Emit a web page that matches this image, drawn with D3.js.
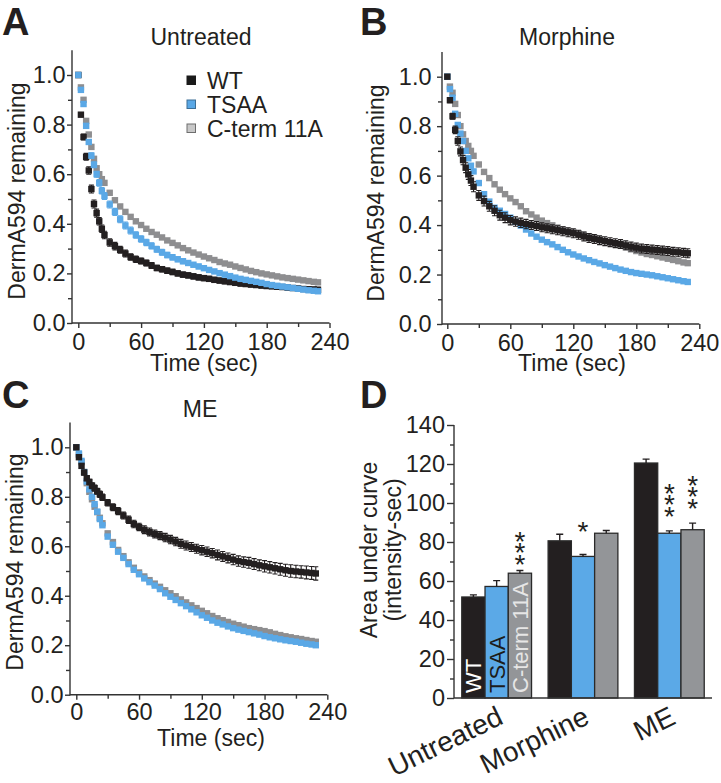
<!DOCTYPE html>
<html><head><meta charset="utf-8">
<script src="https://cdn.jsdelivr.net/npm/d3@7"></script>
<style>
body{margin:0;background:#fff}
svg{display:block}
text{font-family:"Liberation Sans",Arial,Helvetica,sans-serif;fill:#231f20}
</style>
</head><body>
<svg id="chart" width="721" height="783"></svg>
<script>
// ---------------- DATA ----------------
const seriesNames = ["WT", "TSAA", "C-term 11A"];
const times = [0,2.5,5,7.5,10,12.5,15,17.5,20,22.5,25,
  30,35,40,45,50,55,60,65,70,75,80,85,90,95,100,105,110,115,120,125,
  130,135,140,145,150,155,160,165,170,175,180,185,190,195,200,205,210,215,220,225,229];
const xTickValues = [0,60,120,180,240];
const xMinorTicks = [30,90,150,210];
const yTickValues = [0,0.2,0.4,0.6,0.8,1.0];
const yMinorTicks = [0.1,0.3,0.5,0.7,0.9];

// Panel A: Untreated
const untreatedWT = [1.0,.84,.75,.67,.615,.54,.48,.443,.41,.38,.355,
  .325,.31,.295,.28,.266,.257,.25,.242,.232,.222,
  .217,.211,.206,.2,.195,.192,.188,.184,.181,.178,
  .174,.171,.168,.165,.162,.159,.157,.155,.153,.151,
  .149,.148,.146,.145,.143,.141,.139,.137,.136,.135,.134];
const untreatedWTErr = [0,.008,.012,.014,.015,.016,.016,.016,.015,.015,.015,
  .015,.015,.014,.014,.013,.013,.012,.012,.012,.011,
  .011,.011,.011,.01,.01,.01,.01,.01,.01,.01,
  .01,.01,.01,.01,.01,.01,.01,.01,.01,.01,
  .01,.01,.01,.01,.01,.01,.01,.01,.01,.01,.01];
const untreatedTSAA = [1.0,.94,.883,.795,.73,.675,.638,.6,.565,.533,.512,
  .478,.448,.418,.393,.373,.355,.339,.325,.311,.297,
  .285,.274,.265,.257,.249,.242,.235,.228,.221,.214,
  .208,.201,.195,.189,.183,.178,.174,.17,.166,.162,
  .157,.153,.15,.147,.144,.141,.138,.135,.132,.13,.128];
const untreatedTSAAErr = [0,.005,.007,.008,.01,.011,.012,.012,.013,.013,.014,
  .014,.014,.014,.014,.014,.013,.013,.013,.012,.012,
  .012,.011,.011,.01,.01,.01,.009,.009,.009,.008,
  .008,.008,.008,.007,.007,.007,.007,.007,.006,.006,
  .006,.006,.006,.006,.006,.006,.006,.006,.006,.006,.006];
const untreatedCterm = [1.0,.95,.9,.815,.76,.71,.662,.624,.6,.58,.565,
  .525,.495,.47,.448,.428,.41,.395,.38,.367,.356,
  .345,.333,.323,.313,.302,.293,.284,.276,.268,.261,
  .254,.246,.24,.235,.228,.222,.216,.21,.205,.2,
  .196,.192,.188,.184,.181,.178,.175,.172,.169,.166,.164];
const untreatedCtermErr = [0,.004,.005,.005,.005,.005,.005,.005,.005,.005,.005,
  .005,.005,.005,.005,.005,.005,.005,.005,.005,.005,
  .005,.005,.005,.005,.005,.005,.005,.005,.005,.005,
  .005,.005,.005,.005,.005,.005,.005,.005,.005,.005,
  .005,.005,.005,.005,.005,.005,.005,.005,.005,.005,.005];

// Panel B: Morphine
const morphineWT = [1.0,.905,.84,.785,.74,.698,.663,.632,.605,.58,.555,
  .52,.497,.476,.458,.44,.43,.42,.414,.409,.404,
  .4,.396,.391,.387,.383,.379,.375,.371,.367,.361,
  .354,.348,.344,.339,.335,.331,.327,.323,.318,.313,
  .309,.305,.303,.301,.299,.297,.295,.292,.29,.288,.286];
const morphineWTErr = [0,.01,.012,.015,.017,.018,.019,.02,.02,.02,.02,
  .02,.02,.02,.02,.02,.02,.019,.019,.019,.019,
  .018,.018,.018,.018,.018,.018,.018,.018,.018,.018,
  .018,.018,.018,.018,.018,.018,.018,.018,.018,.018,
  .018,.018,.018,.018,.018,.018,.018,.018,.018,.018,.018];
const morphineTSAA = [1.0,.95,.915,.85,.805,.77,.74,.7,.67,.64,.617,
  .57,.525,.495,.47,.458,.445,.43,.413,.398,.382,
  .366,.353,.341,.331,.322,.311,.3,.29,.281,.273,
  .265,.258,.251,.245,.238,.232,.226,.22,.215,.21,
  .206,.203,.2,.197,.193,.189,.185,.181,.177,.173,.17];
const morphineTSAAErr = [0,.004,.004,.004,.004,.004,.004,.004,.004,.004,.004,
  .004,.004,.004,.004,.004,.004,.004,.004,.004,.004,
  .004,.004,.004,.004,.004,.004,.004,.004,.004,.004,
  .004,.004,.004,.004,.004,.004,.004,.004,.004,.004,
  .004,.004,.004,.004,.004,.004,.004,.004,.004,.004,.004];
const morphineCterm = [1.0,.96,.935,.89,.845,.8,.767,.74,.72,.7,.68,
  .645,.615,.59,.565,.543,.525,.508,.493,.476,.456,
  .443,.43,.418,.408,.399,.39,.383,.377,.372,.367,
  .361,.355,.349,.343,.336,.329,.322,.316,.31,.302,
  .295,.289,.283,.279,.274,.269,.264,.259,.254,.249,.246];
const morphineCtermErr = [0,.005,.006,.006,.006,.006,.006,.006,.006,.006,.006,
  .006,.006,.006,.006,.006,.006,.006,.006,.006,.006,
  .006,.006,.006,.006,.006,.006,.006,.006,.006,.006,
  .006,.006,.006,.006,.006,.006,.006,.006,.006,.006,
  .006,.006,.006,.006,.006,.006,.006,.006,.006,.006,.006];

// Panel C: ME
const meWT = [1.0,.96,.925,.898,.875,.86,.845,.835,.822,.81,.798,
  .776,.758,.742,.724,.707,.69,.678,.667,.658,.65,
  .643,.635,.627,.619,.61,.603,.597,.59,.584,.578,
  .572,.565,.559,.553,.546,.54,.536,.533,.528,.523,
  .519,.515,.511,.507,.503,.5,.498,.496,.494,.492,.49];
const meWTErr = [0,.006,.008,.01,.01,.011,.012,.012,.012,.013,.013,
  .013,.014,.014,.014,.015,.015,.015,.016,.016,.016,
  .016,.017,.017,.017,.018,.018,.018,.018,.019,.019,
  .019,.02,.02,.02,.021,.021,.021,.022,.022,.022,
  .023,.023,.023,.024,.024,.025,.025,.025,.026,.026,.027];
const meTSAA = [1.0,.975,.945,.9,.862,.83,.8,.77,.74,.71,.685,
  .639,.606,.578,.553,.528,.505,.487,.47,.455,.441,
  .427,.41,.396,.383,.37,.358,.345,.333,.321,.311,
  .3,.291,.284,.276,.269,.263,.258,.253,.248,.243,
  .237,.232,.228,.224,.22,.217,.214,.21,.206,.203,.2];
const meTSAAErr = [0,.004,.004,.004,.004,.004,.004,.004,.004,.004,.004,
  .004,.004,.004,.004,.004,.004,.004,.004,.004,.004,
  .004,.004,.004,.004,.004,.004,.004,.004,.004,.004,
  .004,.004,.004,.004,.004,.004,.004,.004,.004,.004,
  .004,.004,.004,.004,.004,.004,.004,.004,.004,.004,.004];
const meCterm = [1.0,.97,.94,.9,.855,.82,.79,.76,.738,.715,.693,
  .652,.617,.585,.56,.535,.513,.494,.478,.463,.449,
  .436,.422,.41,.398,.385,.373,.361,.35,.339,.329,
  .318,.309,.301,.294,.287,.281,.275,.269,.265,.261,
  .257,.252,.246,.241,.236,.232,.228,.225,.221,.217,.214];
const meCtermErr = [0,.006,.007,.008,.008,.008,.008,.008,.008,.008,.008,
  .008,.008,.008,.008,.008,.008,.008,.008,.008,.008,
  .008,.008,.008,.008,.008,.008,.008,.008,.008,.008,
  .008,.008,.008,.008,.008,.008,.008,.008,.008,.008,
  .008,.008,.008,.008,.008,.008,.008,.008,.008,.008,.008];

// Panel D: area under curve
const aucGroups = ["Untreated", "Morphine", "ME"];
const aucWT = [51.8, 80.6, 120.5];
const aucWTErr = [1.1, 3.4, 2.0];
const aucTSAA = [57.2, 72.6, 84.5];
const aucTSAAErr = [3.0, 1.0, 1.2];
const aucCterm = [64.0, 84.5, 86.3];
const aucCtermErr = [1.4, 1.4, 3.4];
const aucTicks = [0,20,40,60,80,100,120,140];
const aucMinorTicks = [10,30,50,70,90,110,130];
// significance: group, series index, number of stars, level (data units) of lowest star
const sigStars = [
  {group:"Untreated", series:2, n:3, level:71.8},
  {group:"Morphine",  series:1, n:1, level:88.7},
  {group:"ME",        series:1, n:3, level:96.4},
  {group:"ME",        series:2, n:3, level:100.5}
];

// ---------------- STYLE / LAYOUT ----------------
const colors = {"WT":"#231f20", "TSAA":"#5aa8e6", "C-term 11A":"#8e8e90"};
const barColors = {"WT":"#231f20", "TSAA":"#5ba9e7", "C-term 11A":"#939598"};
const FONT = 23;
const TICKFONT = 23.5;
const svg = d3.select("#chart");

const curvePanels = [
  {letter:"A", title:"Untreated",
   series:[{name:"C-term 11A", v:untreatedCterm, e:untreatedCtermErr},
           {name:"WT", v:untreatedWT, e:untreatedWTErr},
           {name:"TSAA", v:untreatedTSAA, e:untreatedTSAAErr}],
   L:{axisX:72, zeroX:78.3, endX:329.5, y0:323, y1:75, xPad:5, yPad:1.5, titleX:201, titleY:45,
      xlabX:204, xlabY:371, ylabX:25, ylabY:191, letterX:2, letterY:35}, legend:true},
  {letter:"B", title:"Morphine",
   series:[{name:"C-term 11A", v:morphineCterm, e:morphineCtermErr},
           {name:"TSAA", v:morphineTSAA, e:morphineTSAAErr},
           {name:"WT", v:morphineWT, e:morphineWTErr}],
   L:{axisX:442, zeroX:447.3, endX:699.3, y0:324, y1:76.7, xPad:5, yPad:5.5, titleX:567, titleY:45,
      xlabX:572, xlabY:371, ylabX:384, ylabY:193, letterX:360, letterY:35}},
  {letter:"C", title:"ME",
   series:[{name:"C-term 11A", v:meCterm, e:meCtermErr},
           {name:"TSAA", v:meTSAA, e:meTSAAErr},
           {name:"WT", v:meWT, e:meWTErr}],
   L:{axisX:70, zeroX:76.3, endX:327.3, y0:694.7, y1:447.3, xPad:4, yPad:1.5, titleX:200, titleY:417,
      xlabX:211, xlabY:746, ylabX:23, ylabY:562, letterX:2, letterY:408}}
];

function styleAxis(a){
  a.selectAll("path,line").attr("stroke","#333").attr("stroke-width",1.4);
  a.selectAll("text").attr("font-size",TICKFONT).attr("font-family",null).attr("fill","#231f20");
}

curvePanels.forEach(P => {
  const L = P.L;
  const g = svg.append("g");
  const x = d3.scaleLinear().domain([0,240]).range([L.zeroX, L.endX]);
  const y = d3.scaleLinear().domain([0,1]).range([L.y0, L.y1]);

  // x axis
  g.append("g").attr("transform",`translate(0,${L.y0})`)
    .call(d3.axisBottom(x).tickValues(xTickValues).tickSize(5).tickPadding(L.xPad).tickFormat(d3.format("d")))
    .call(a=>a.select(".domain").remove()).call(styleAxis);
  g.append("g").attr("transform",`translate(0,${L.y0})`)
    .call(d3.axisBottom(x).tickValues(xMinorTicks).tickSize(4).tickFormat(""))
    .call(a=>a.select(".domain").remove()).call(styleAxis);
  g.append("line").attr("x1",L.axisX).attr("x2",L.endX).attr("y1",L.y0).attr("y2",L.y0)
    .attr("stroke","#333").attr("stroke-width",1.4);
  // y axis
  g.append("g").attr("transform",`translate(${L.axisX},0)`)
    .call(d3.axisLeft(y).tickValues(yTickValues).tickSize(5).tickPadding(L.yPad).tickFormat(d3.format(".1f")))
    .call(a=>a.select(".domain").remove()).call(styleAxis);
  g.append("g").attr("transform",`translate(${L.axisX},0)`)
    .call(d3.axisLeft(y).tickValues(yMinorTicks).tickSize(4).tickFormat(""))
    .call(a=>a.select(".domain").remove()).call(styleAxis);
  g.append("line").attr("x1",L.axisX).attr("x2",L.axisX).attr("y1",L.y0+0.7).attr("y2",y(1.1))
    .attr("stroke","#333").attr("stroke-width",1.4);

  // series
  P.series.forEach(s => {
    const pts = times.map((t,i)=>({t, v:s.v[i], e:s.e[i]||0}));
    const sg = g.append("g");
    sg.selectAll("path.err").data(pts.filter(d=>d.e>0)).join("path").attr("class","err")
      .attr("d", d => {
        const cx = x(d.t), top = y(d.v + d.e), bot = y(d.v - d.e);
        return `M${cx},${top}V${bot}M${cx-2.5},${top}h5M${cx-2.5},${bot}h5`;
      })
      .attr("stroke", colors[s.name]).attr("stroke-width",1.1).attr("fill","none");
    sg.selectAll("rect").data(pts).join("rect")
      .attr("x", d=>x(d.t)-3.2).attr("y", d=>y(d.v)-3.2).attr("width",6.4).attr("height",6.4)
      .attr("fill", colors[s.name]);
  });

  // texts
  g.append("text").attr("x",L.titleX).attr("y",L.titleY).attr("text-anchor","middle")
    .attr("font-size",FONT).text(P.title);
  g.append("text").attr("x",L.xlabX).attr("y",L.xlabY).attr("text-anchor","middle")
    .attr("font-size",FONT).text("Time (sec)");
  g.append("text").attr("transform",`translate(${L.ylabX},${L.ylabY}) rotate(-90)`)
    .attr("text-anchor","middle").attr("font-size",FONT).text("DermA594 remaining");
  g.append("text").attr("x",L.letterX).attr("y",L.letterY).attr("font-size",38)
    .attr("font-weight","bold").text(P.letter);

  if (P.legend) {
    const legendStyle = {"WT":["#1a1a1a","#1a1a1a"], "TSAA":["#5aa8e6","#3d6f96"], "C-term 11A":["#c8c8c8","#6e6e6e"]};
    const lg = g.append("g").attr("transform","translate(187,76)");
    seriesNames.forEach((n,i) => {
      lg.append("rect").attr("x",0).attr("y",i*24).attr("width",8.5).attr("height",8.5)
        .attr("fill",legendStyle[n][0]).attr("stroke",legendStyle[n][1]).attr("stroke-width",1);
      lg.append("text").attr("x",20).attr("y",i*24+12.5).attr("font-size",FONT).text(n);
    });
  }
});

// ---------------- PANEL D ----------------
(function(){
  const g = svg.append("g");
  const y = d3.scaleLinear().domain([0,140]).range([698,425]);
  const x0 = d3.scaleBand().domain(aucGroups).range([454,712]).paddingInner(0.192).paddingOuter(0.09);
  const x1 = d3.scaleBand().domain(seriesNames).range([0, x0.bandwidth()]).padding(0);
  const vals = {"WT":[aucWT,aucWTErr], "TSAA":[aucTSAA,aucTSAAErr], "C-term 11A":[aucCterm,aucCtermErr]};
  const bars = [];
  aucGroups.forEach((grp,gi) => seriesNames.forEach(s => bars.push({grp, s, v:vals[s][0][gi], e:vals[s][1][gi]})));

  g.selectAll("rect.bar").data(bars).join("rect").attr("class","bar")
    .attr("x", d=>x0(d.grp)+x1(d.s)).attr("width", x1.bandwidth())
    .attr("y", d=>y(d.v)).attr("height", d=>y(0)-y(d.v))
    .attr("fill", d=>barColors[d.s]).attr("stroke","#2a2a2a").attr("stroke-width",1.3);
  g.selectAll("path.err").data(bars).join("path").attr("class","err")
    .attr("d", d => {
      const cx = x0(d.grp)+x1(d.s)+x1.bandwidth()/2;
      return `M${cx},${y(d.v)}V${y(d.v+d.e)}M${cx-3.5},${y(d.v+d.e)}h7`;
    }).attr("stroke","#231f20").attr("stroke-width",1.4).attr("fill","none");

  // axes
  g.append("g").attr("transform","translate(454,0)")
    .call(d3.axisLeft(y).tickValues(aucTicks).tickSize(7).tickPadding(2).tickFormat(d3.format("d")))
    .call(a=>a.select(".domain").remove()).call(styleAxis);
  g.append("g").attr("transform","translate(454,0)")
    .call(d3.axisLeft(y).tickValues(aucMinorTicks).tickSize(4).tickFormat(""))
    .call(a=>a.select(".domain").remove()).call(styleAxis);
  g.append("line").attr("x1",454).attr("x2",454).attr("y1",y(0)).attr("y2",y(140))
    .attr("stroke","#333").attr("stroke-width",1.4);
  g.append("line").attr("x1",454).attr("x2",712).attr("y1",y(0)).attr("y2",y(0))
    .attr("stroke","#333").attr("stroke-width",1.4);

  // in-bar labels (first group)
  const inColors = {"WT":"#ffffff", "TSAA":"#1c1c1c", "C-term 11A":"#e6e6e6"};
  seriesNames.forEach(s => {
    const cx = x0(aucGroups[0]) + x1(s) + x1.bandwidth()/2;
    g.append("text").attr("transform",`translate(${cx+8},693) rotate(-90)`)
      .attr("font-size",22).style("fill",inColors[s]).text(s);
  });

  // stars: one text per stack
  sigStars.forEach(st => {
    const cx = x0(st.group) + x1(seriesNames[st.series]) + x1.bandwidth()/2;
    const t = g.append("text").attr("text-anchor","middle").attr("font-size",28);
    for (let k=0;k<st.n;k++){
      t.append("tspan").attr("x",cx).attr("y", y(st.level) - k*11.7 + 16).text("*");
    }
  });

  // category labels
  aucGroups.forEach(grp => {
    const cx = x0(grp) + x0.bandwidth()/2 + 8;
    g.append("text").attr("transform",`translate(${cx},723) rotate(-26)`)
      .attr("text-anchor","end").attr("font-size",28).text(grp);
  });

  // y label
  g.append("text").attr("transform","translate(377,550) rotate(-90)").attr("text-anchor","middle")
    .attr("font-size",FONT).text("Area under curve");
  g.append("text").attr("transform","translate(401,550) rotate(-90)").attr("text-anchor","middle")
    .attr("font-size",FONT).text("(intensity-sec)");
  g.append("text").attr("x",360).attr("y",408).attr("font-size",38).attr("font-weight","bold").text("D");
})();
</script>
</body></html>
